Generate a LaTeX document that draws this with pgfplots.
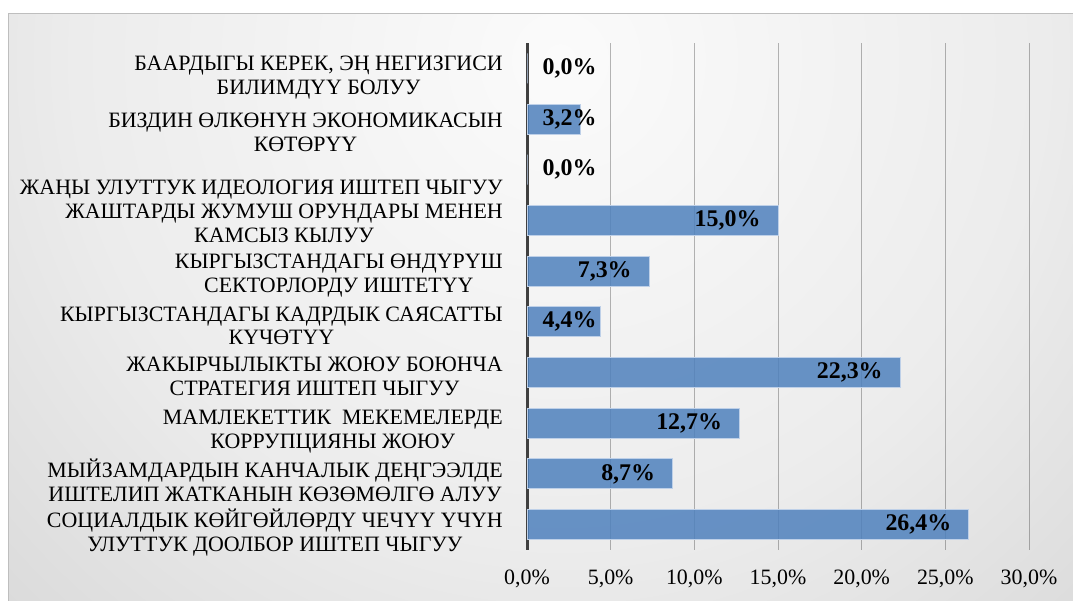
\documentclass[border=0pt]{standalone}
\usepackage{fontspec}
\setmainfont{Liberation Serif}
\usepackage{pgfplots}
\pgfplotsset{compat=1.18}
\usepackage{pgfplotstable}

\definecolor{barfill}{RGB}{79,129,189}
\definecolor{barline}{RGB}{190,208,232}
\definecolor{axisdark}{RGB}{64,64,64}
\definecolor{bgA}{RGB}{251,251,251}
\definecolor{bgB}{RGB}{236,236,236}
\definecolor{bgC}{RGB}{200,200,200}
\definecolor{frame}{RGB}{190,190,190}

\pgfdeclareradialshading{chartbg}{\pgfpoint{0bp}{0bp}}{color(0bp)=(bgA); color(11bp)=(bgB); color(25bp)=(bgC); color(50bp)=(bgC)}

\pgfplotstableread{
idx v
0 26.4
1 8.7
2 12.7
3 22.3
4 4.4
5 7.3
6 15.0
7 0.0
8 3.2
9 0.0
}\datatable

\begin{document}
\begin{tikzpicture}
\fill[white] (0bp,0bp) rectangle (1073bp,601bp);
\begin{scope}
\clip (8bp,0bp) rectangle (1073bp,587bp);
\shade[shading=chartbg] (560bp,541bp) circle (1100bp);
\end{scope}
\draw[frame, line width=1bp] (8bp,0bp) -- (8bp,587bp) -- (1073bp,587bp);
\begin{axis}[
  at={(527bp,51bp)}, anchor=south west,
  scale only axis, width=502bp, height=507bp,
  xmin=0, xmax=30, ymin=-0.5, ymax=9.5,
  axis lines*=left,
  x axis line style={draw=none},
  y axis line style={draw=axisdark, line width=3bp},
  xtick={0,5,...,30},
  major tick length=0pt,
  xmajorgrids,
  grid style={black, opacity=0.28, line width=1bp},
  ytick={-0.07,0.95,1.91,3,4,5,6.03,6.78,7.82,8.9},
  yticklabels={
    {СОЦИАЛДЫК КӨЙГӨЙЛӨРДҮ ЧЕЧҮҮ ҮЧҮН\\УЛУТТУК ДООЛБОР ИШТЕП ЧЫГУУ},
    {МЫЙЗАМДАРДЫН КАНЧАЛЫК ДЕҢГЭЭЛДЕ\\ИШТЕЛИП ЖАТКАНЫН КӨЗӨМӨЛГӨ АЛУУ},
    {МАМЛЕКЕТТИК\ \ МЕКЕМЕЛЕРДЕ\\КОРРУПЦИЯНЫ ЖОЮУ},
    {ЖАКЫРЧЫЛЫКТЫ ЖОЮУ БОЮНЧА\\СТРАТЕГИЯ ИШТЕП ЧЫГУУ},
    {КЫРГЫЗСТАНДАГЫ КАДРДЫК САЯСАТТЫ\\КҮЧӨТҮҮ},
    {КЫРГЫЗСТАНДАГЫ ӨНДҮРҮШ\\СЕКТОРЛОРДУ ИШТЕТҮҮ},
    {ЖАШТАРДЫ ЖУМУШ ОРУНДАРЫ МЕНЕН\\КАМСЫЗ КЫЛУУ},
    {\mbox{}\\ЖАҢЫ УЛУТТУК ИДЕОЛОГИЯ ИШТЕП ЧЫГУУ},
    {БИЗДИН ӨЛКӨНҮН ЭКОНОМИКАСЫН\\КӨТӨРҮҮ},
    {БААРДЫГЫ КЕРЕК, ЭҢ НЕГИЗГИСИ\\БИЛИМДҮҮ БОЛУУ}
  },
  /pgf/number format/assume math mode=true,
  xticklabel={\pgfmathprintnumber[fixed,fixed zerofill,precision=1,use comma]{\tick}\%},
  xticklabel style={font=\fontsize{22}{26}\selectfont, inner sep=0pt, anchor=north, yshift=-20bp},
  yticklabel style={font=\fontsize{22}{24}\selectfont, align=center, inner sep=0pt, anchor=east, xshift=-24bp, yshift=-4bp},
  clip=false,
]
\addplot[xbar, bar width=30bp, bar shift=0pt,
  fill=barfill, fill opacity=0.85, draw=barline, line width=1bp,
  point meta=x,
  visualization depends on={rawx \as \val},
  nodes near coords={\pgfmathprintnumber[fixed,fixed zerofill,precision=1,use comma]{\pgfplotspointmeta}\%},
  nodes near coords style={font=\fontsize{24}{28}\selectfont\bfseries, anchor=east, inner sep=0pt,
    text opacity=1, black, xshift={max(-17,70-16.73*\val)*1bp}},
] table[x=v, y=idx] {\datatable};
\end{axis}
\pgfresetboundingbox
\path[use as bounding box] (0bp,0bp) rectangle (1073bp,601bp);
\end{tikzpicture}
\end{document}
